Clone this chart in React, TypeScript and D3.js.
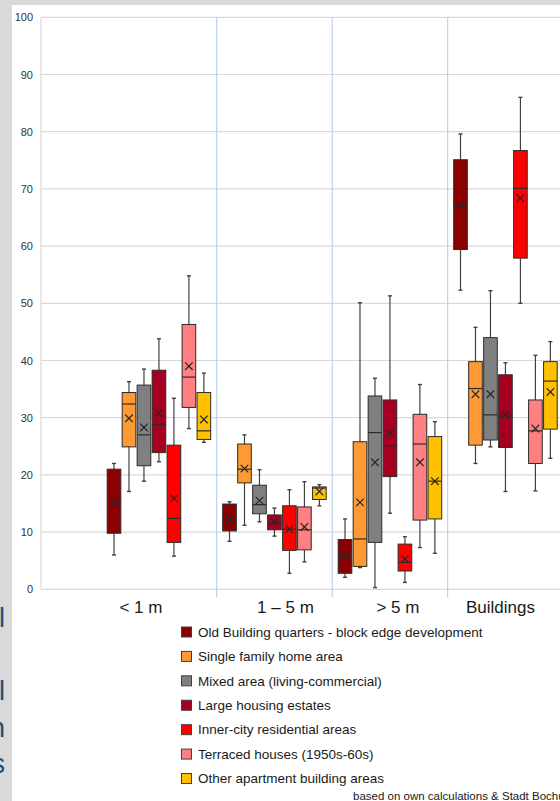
import * as d3 from 'd3'

// Groups along the x axis
const categories = ['< 1 m', '1 – 5 m', '> 5 m', 'Buildings']

// Series (settlement types) and their colours
const seriesNames = [
  'Old Building quarters - block edge development',
  'Single family home area',
  'Mixed area (living-commercial)',
  'Large housing estates',
  'Inner-city residential areas',
  'Terraced houses (1950s-60s)',
  'Other apartment building areas',
]
const seriesColors = ['#8b0000', '#ff9933', '#808080', '#a50021', '#ff0000', '#ff8080', '#ffc000']

// [min, q1, median, q3, max, mean] per category
const oldBuilding = [
  [6.0, 9.8, 15.0, 21.0, 22.0, 15.2],
  [8.4, 10.2, 11.5, 14.9, 15.3, 12.2],
  [2.1, 2.8, 5.8, 8.7, 12.3, 5.9],
  [52.3, 59.4, 67.0, 75.1, 79.6, 67.1],
]
const singleFamily = [
  [17.1, 24.9, 32.4, 34.4, 36.3, 29.9],
  [11.2, 18.6, 21.0, 25.4, 27.0, 21.1],
  [3.8, 4.0, 8.8, 25.8, 50.1, 15.2],
  [22.0, 25.2, 35.1, 39.8, 45.8, 34.1],
]
const mixedArea = [
  [18.9, 21.6, 27.0, 35.7, 38.5, 28.3],
  [11.8, 13.2, 14.8, 18.2, 20.9, 15.5],
  [0.3, 8.2, 27.4, 33.8, 36.9, 22.2],
  [24.9, 26.1, 30.5, 44.0, 52.2, 34.1],
]
const largeHousing = [
  [22.3, 23.9, 28.8, 38.3, 43.8, 30.8],
  [9.3, 10.4, 11.6, 13.0, 14.2, 11.8],
  [13.3, 19.7, 25.1, 33.1, 51.3, 27.3],
  [17.1, 24.8, 30.3, 37.5, 39.6, 30.5],
]
const innerCity = [
  [5.8, 8.2, 12.4, 25.2, 33.4, 15.9],
  [2.8, 6.8, 10.5, 14.6, 17.4, 10.5],
  [1.2, 3.2, 4.7, 7.9, 9.2, 5.3],
  [50.0, 57.9, 70.1, 76.7, 86.0, 68.4],
]
const terraced = [
  [28.1, 31.8, 37.1, 46.3, 54.8, 39.0],
  [4.8, 6.9, 10.4, 14.4, 18.8, 10.9],
  [7.3, 12.1, 25.4, 30.6, 35.8, 22.2],
  [17.2, 22.0, 27.7, 33.1, 40.9, 28.1],
]
const otherApartment = [
  [25.7, 26.2, 27.7, 34.4, 37.8, 29.7],
  [14.6, 15.7, 17.7, 17.9, 18.3, 17.1],
  [6.3, 12.3, 18.9, 26.7, 29.3, 18.9],
  [22.9, 28.0, 36.4, 39.8, 43.3, 34.5],
]
const seriesStats = [oldBuilding, singleFamily, mixedArea, largeHousing, innerCity, terraced, otherApartment]

const yTicks = [0, 10, 20, 30, 40, 50, 60, 70, 80, 90, 100]

// cut-off slide text on the left edge
const sideLetters = ['l', 'l', 'n', 's']

const W = 560
const H = 801
const FONT = 'Liberation Sans, Arial, sans-serif'

export default function App() {
  const plotLeft = 41
  const plotTop = 17.3
  const plotBottom = 589.3

  const y = d3.scaleLinear().domain([0, 100]).range([plotBottom, plotTop])
  const x = d3.scaleBand().domain(categories).range([101.2, 563.2]).paddingInner(0).paddingOuter(0)
  const inner = d3
    .scaleBand()
    .domain(seriesNames)
    .range([0, x.bandwidth()])
    .paddingInner(0.09)
    .paddingOuter(0.4)
  const bw = inner.bandwidth()

  // label shifts as laid out in the original slide
  const labelShift = [-18, 11, 8, -5]
  const sideBaselines = [627, 700, 737, 773]

  const legendY = d3.scalePoint().domain(seriesNames).range([632, 778.5])

  return (
    <svg
      width={W}
      height={H}
      viewBox={`0 0 ${W} ${H}`}
      style={{ position: 'absolute', left: 0, top: 0, display: 'block', fontFamily: FONT }}
    >
      <rect x={0} y={0} width={W} height={H} fill="#ffffff" />
      <rect x={0} y={0} width={W} height={5} fill="#d9d9d9" />
      <rect x={0} y={0} width={12} height={H} fill="#d9d9d9" />

      {sideLetters.map((ch, i) => (
        <text
          key={i}
          x={5}
          y={sideBaselines[i]}
          textAnchor="end"
          fontSize={27}
          fill="#1f4e79"
          fontFamily={FONT}
        >
          {ch}
        </text>
      ))}

      {/* horizontal gridlines */}
      {yTicks.map(t => (
        <line key={t} x1={plotLeft} x2={W + 10} y1={y(t)} y2={y(t)} stroke="#d9d9d9" strokeWidth={1.2} />
      ))}
      <line x1={plotLeft} x2={plotLeft} y1={plotTop} y2={plotBottom} stroke="#d9d9d9" strokeWidth={1.2} />

      {/* group separators */}
      {categories.slice(1).map(c => (
        <line
          key={c}
          x1={x(c)!}
          x2={x(c)!}
          y1={plotTop}
          y2={plotBottom + 8}
          stroke="#b4cbe4"
          strokeWidth={1}
        />
      ))}

      {/* y tick labels */}
      {yTicks.map(t => (
        <text key={t} x={33} y={y(t) + 4} textAnchor="end" fontSize={11} fill="#333">
          {t}
        </text>
      ))}

      {/* boxes */}
      {seriesStats.map((stats, si) =>
        stats.map((s, ci) => {
          const [mn, q1, med, q3, mx, mean] = s
          const x0 = x(categories[ci])! + inner(seriesNames[si])!
          const cx = x0 + bw / 2
          const m = 3.8
          return (
            <g key={`${si}-${ci}`}>
              <line x1={cx} x2={cx} y1={y(mx)} y2={y(q3)} stroke="#404040" strokeWidth={1.2} />
              <line x1={cx} x2={cx} y1={y(q1)} y2={y(mn)} stroke="#404040" strokeWidth={1.2} />
              <line x1={cx - 2} x2={cx + 2} y1={y(mx)} y2={y(mx)} stroke="#404040" strokeWidth={1.4} />
              <line x1={cx - 2} x2={cx + 2} y1={y(mn)} y2={y(mn)} stroke="#404040" strokeWidth={1.4} />
              <rect
                x={x0}
                y={y(q3)}
                width={bw}
                height={y(q1) - y(q3)}
                fill={seriesColors[si]}
                stroke="#2b2b2b"
                strokeWidth={1}
              />
              <line x1={x0} x2={x0 + bw} y1={y(med)} y2={y(med)} stroke="#2b2b2b" strokeWidth={1.2} />
              <path
                d={`M${cx - m},${y(mean) - m}L${cx + m},${y(mean) + m}M${cx - m},${y(mean) + m}L${cx + m},${y(mean) - m}`}
                stroke="#262626"
                strokeWidth={1.2}
                fill="none"
              />
            </g>
          )
        }),
      )}

      {/* category labels */}
      {categories.map((c, i) => (
        <text
          key={c}
          x={x(c)! + x.bandwidth() / 2 + labelShift[i]}
          y={612.5}
          textAnchor="middle"
          fontSize={17}
          fill="#1a1a1a"
        >
          {c}
        </text>
      ))}

      {/* legend */}
      {seriesNames.map((n, i) => (
        <g key={n} transform={`translate(181,${legendY(n)})`}>
          <rect x={0.5} y={-5} width={10} height={10} fill={seriesColors[i]} stroke="#404040" strokeWidth={1} />
          <text x={17} y={4.8} fontSize={13.5} fill="#1a1a1a">
            {n}
          </text>
        </g>
      ))}

      <text x={353} y={800} fontSize={11.5} fill="#1a1a1a">
        based on own calculations &amp; Stadt Bochum
      </text>
    </svg>
  )
}
